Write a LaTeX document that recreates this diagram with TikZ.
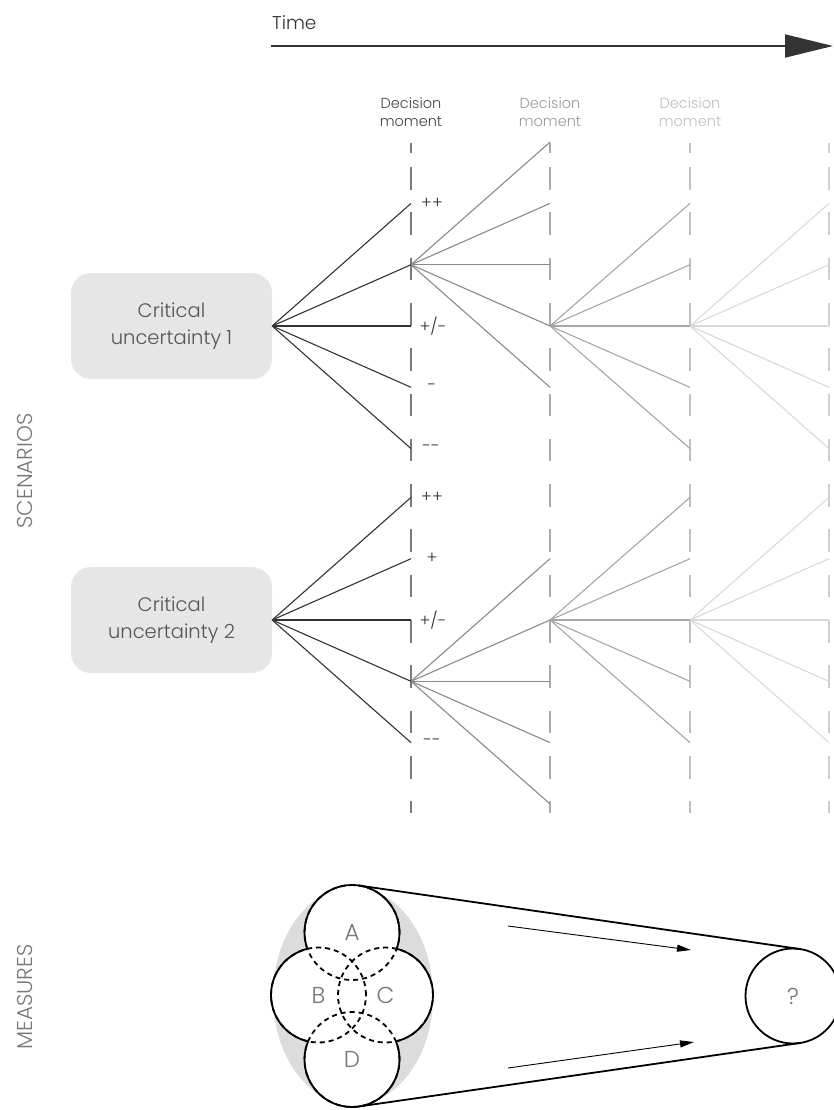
\documentclass[tikz,border=0pt]{standalone}
\usepackage{fontspec}
\setmainfont{Poppins Light}
\usetikzlibrary{arrows.meta}

% palette
\definecolor{inkA}{HTML}{333333}
\definecolor{txtmid}{HTML}{555555}
\definecolor{txtlight}{HTML}{777777}
\definecolor{boxgray}{HTML}{E6E6E6}
\definecolor{ellgray}{HTML}{DCDCDC}
\definecolor{tierBc}{HTML}{8A8A8A}
\definecolor{tierCc}{HTML}{A6A6A6}
\definecolor{tierDc}{HTML}{D9D9D9}
\definecolor{dmA}{HTML}{7A7A7A}
\definecolor{dmB}{HTML}{ABABAB}
\definecolor{dmC}{HTML}{C0C0C0}
\definecolor{dmD}{HTML}{CFCFCF}
\definecolor{labA}{HTML}{444444}
\definecolor{labB}{HTML}{9A9A9A}
\definecolor{labC}{HTML}{BEBEBE}

\newcommand\sizept[2]{\fontsize{#1pt}{#2pt}\selectfont}

\begin{document}
\begin{tikzpicture}[x=1pt,y=-1pt,
  ubox/.style={fill=boxgray, rounded corners=20pt, minimum width=201pt,
    minimum height=106pt, inner sep=0pt, align=center, text=txtmid,
    font=\sizept{19.5}{27}},
  dlabel/.style={align=center, inner sep=0pt, font=\sizept{14.5}{18}},
  pm/.style={inner sep=0pt, text=inkA, font=\sizept{16.5}{16.5}},
  side/.style={rotate=90, inner sep=0pt, text=txtlight, font=\sizept{21.5}{21.5}},
  dline/.style={line width=1.5pt},
  dashpat/.style={dash pattern=on 22.6pt off 22.7pt},
  tierA/.style={draw=inkA, line width=1.1pt},
  tierB/.style={draw=tierBc, line width=1.1pt},
  tierC/.style={draw=tierCc, line width=1.1pt},
  tierD/.style={draw=tierDc, line width=1.1pt},
  mcirc/.style={circle, fill=white, minimum size=95pt, inner sep=0pt,
    text=txtlight, font=\sizept{23}{23}},
  thickline/.style={line width=1.8pt, black},
  inner/.style={line width=1.8pt, black, dash pattern=on 5pt off 4pt},
  flow/.style={line width=0.9pt, black, -{Triangle[length=14pt,width=7pt]}}
]
\useasboundingbox (0,0) rectangle (833,1110);

% ---------- time axis ----------
\node[anchor=base west, inner sep=0pt, text=inkA, font=\sizept{18.5}{18.5}] (time) at (272,30) {Time};
\coordinate (t0) at (271,46);
\coordinate (t1) at (833,46);
\draw[line width=1.8pt, inkA, -{Triangle[length=48pt,width=23pt]}] (t0) -- (t1);

% ---------- decision moments ----------
\node[dlabel, text=labA] (dm1) at (411,112) {Decision\\moment};
\node[dlabel, text=labB] (dm2) at (550,112) {Decision\\moment};
\node[dlabel, text=labC] (dm3) at (690,112) {Decision\\moment};

\foreach \x/\col in {411/dmA, 550/dmB, 690/dmC, 829/dmD} {
  \coordinate (top\x) at (\x,143);
  \coordinate (tick\x) at (\x,153);
  \coordinate (beg\x) at (\x,167);
  \coordinate (end\x) at (\x,813);
  \draw[dline, \col] (top\x) -- (tick\x);
  \draw[dline, \col, dashpat] (beg\x) -- (end\x);
}

% ---------- critical uncertainties ----------
\node[ubox] (cu1) at (171.5,326) {Critical\\uncertainty 1};
\node[ubox] (cu2) at (171.5,620) {Critical\\uncertainty 2};

\node[side] (scen) at (25,471) {SCENARIOS};
\node[side] (meas) at (25,997) {MEASURES};

% branch end points on each decision line
\foreach \t/\yc/\s in {1/326/-1, 2/620/1} {
  \foreach \k in {-2,...,2} {
    \coordinate (a\t\k) at (411,{\yc+61.3*\k});
    \coordinate (c\t\k) at (690,{\yc+61.3*\k});
    \coordinate (e\t\k) at (829,{\yc+61.3*\k});
    \pgfmathtruncatemacro\m{\s+\k}
    \coordinate (b\t\m) at (550,{\yc+61.3*\m});
  }
}

% branches, fading with time
\foreach \t/\s in {1/-1, 2/1} {
  \foreach \k in {-2,...,2} {
    \pgfmathtruncatemacro\m{\s+\k}
    \draw[tierD] (c\t0) -- (e\t\k);
    \draw[tierC] (b\t0) -- (c\t\k);
    \draw[tierB] (a\t\s) -- (b\t\m);
    \draw[tierA] (cu\t.east) -- (a\t\k);
  }
}

% outcome labels
\node[pm] (p1a) at (432,203.4) {++};
\node[pm] (p1c) at (433,326) {+/-};
\node[pm] (p1d) at (432,387.3) {-};
\node[pm] (p1e) at (431,448.6) {\mbox{-}\mbox{-}};
\node[pm] (p2a) at (432,497.4) {++};
\node[pm] (p2b) at (432,558.7) {+};
\node[pm] (p2c) at (433,620) {+/-};
\node[pm] (p2e) at (432,742.6) {\mbox{-}\mbox{-}};

% ---------- measures ----------
\fill[ellgray] (353,996) ellipse [x radius=80pt, y radius=109pt];

\node[mcirc] (A) at (352,932.5) {A};
\node[mcirc] (B) at (318.5,995) {B};
\node[mcirc] (C) at (385.5,995) {C};
\node[mcirc] (D) at (352,1059.5) {D};

% overlaps shown dashed
\foreach \c in {A,B,C,D} {
  \draw[inner] (\c) circle (47.5pt);
}

% outer contour of the four measures
\foreach \c/\o/\p/\q in {A/B/C/D, B/A/C/D, C/A/B/D, D/A/B/C} {
  \begin{scope}[even odd rule]
    \clip (-50,-50) rectangle (900,1200) (\o) circle (47.5pt);
    \clip (-50,-50) rectangle (900,1200) (\p) circle (47.5pt);
    \clip (-50,-50) rectangle (900,1200) (\q) circle (47.5pt);
    \draw[thickline] (\c) circle (47.5pt);
  \end{scope}
}

\node[circle, draw=black, line width=1.8pt, minimum size=95pt, inner sep=0pt,
  text=txtlight, font=\sizept{23}{23}] (Q) at (793,996) {?};

% funnel towards the unknown combination
\coordinate (ftA) at (358.8,885.5);
\coordinate (ftQ) at (799.8,949.0);
\coordinate (fbD) at (358.8,1106.5);
\coordinate (fbQ) at (799.8,1043.0);
\draw[thickline] (ftA) -- (ftQ);
\draw[thickline] (fbD) -- (fbQ);

\coordinate (m1s) at (508,926);
\coordinate (m1e) at (691,950);
\coordinate (m2s) at (508,1068);
\coordinate (m2e) at (694,1042);
\draw[flow] (m1s) -- (m1e);
\draw[flow] (m2s) -- (m2e);
\end{tikzpicture}
\end{document}
